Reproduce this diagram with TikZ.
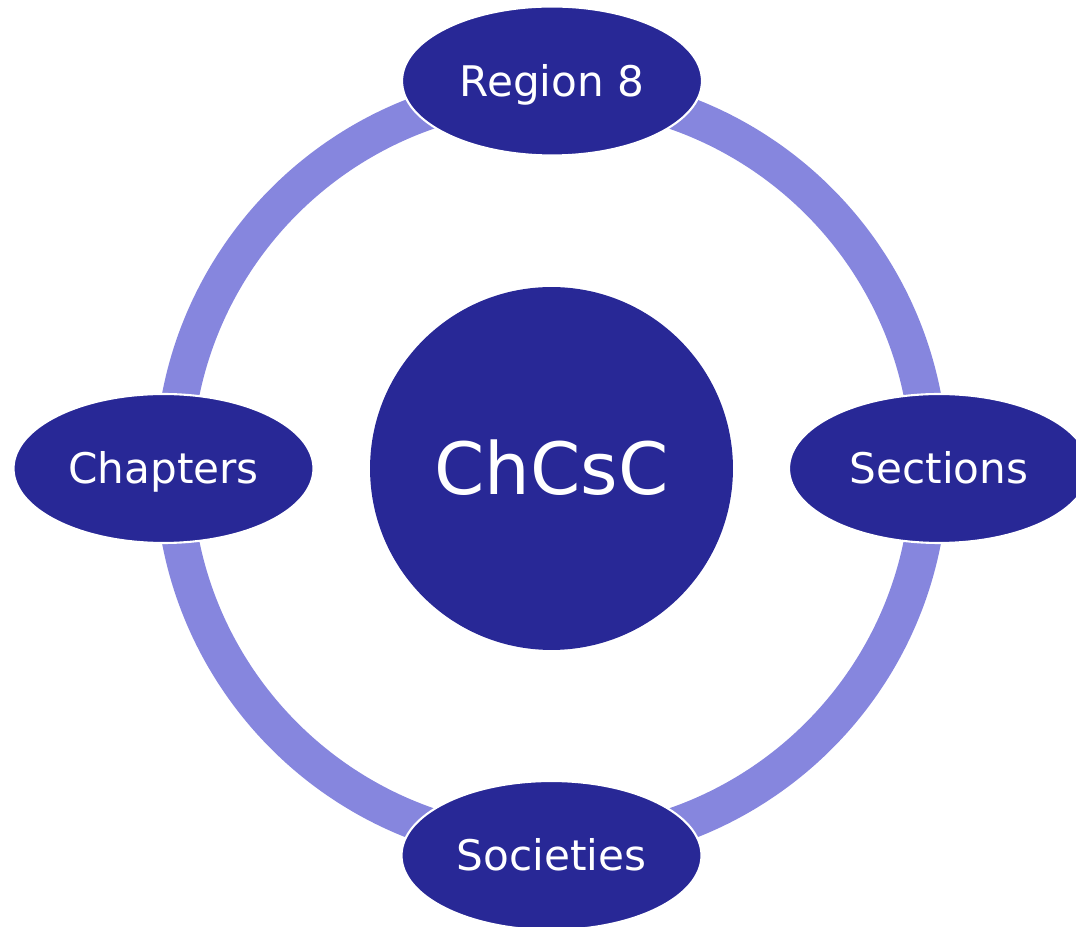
\documentclass[tikz,border=0pt]{standalone}
\usepackage{fontspec}
\setmainfont{DejaVu Sans}
\usetikzlibrary{shapes.geometric}
\definecolor{navy}{RGB}{40,40,150}
\definecolor{lilac}{RGB}{134,134,222}

\begin{document}
\begin{tikzpicture}[x=0.02cm,
y=0.02cm,
every node/.style={
align = center,
text=white,
inner sep=0pt,
text depth=0pt,
},
oval/.style={
ellipse,
draw=white,
line width=1.2pt,
fill=navy,
minimum width=6cm,
minimum height=2.98cm,
font=\fontsize{24}{28}\selectfont,
text height=17.5pt,
}]
\useasboundingbox (0,0) rectangle (1076,927);

%hub
\node[circle,fill=navy,minimum size=7.26cm,font=\fontsize{41}{48}\selectfont,text height=29.9pt](hub)at(551.5,458.5){ChCsC};

%ring
\draw[lilac,line width=0.74cm](hub.center) circle (378);

%outer ovals
\node[oval](region)at(552,846){Region 8};
\node[oval](chapters)at(163.5,458.5){Chapters};
\node[oval](sections)at(939,458.5){Sections};
\node[oval](societies)at(551.5,71.5){Societies};
\end{tikzpicture}
\end{document}
